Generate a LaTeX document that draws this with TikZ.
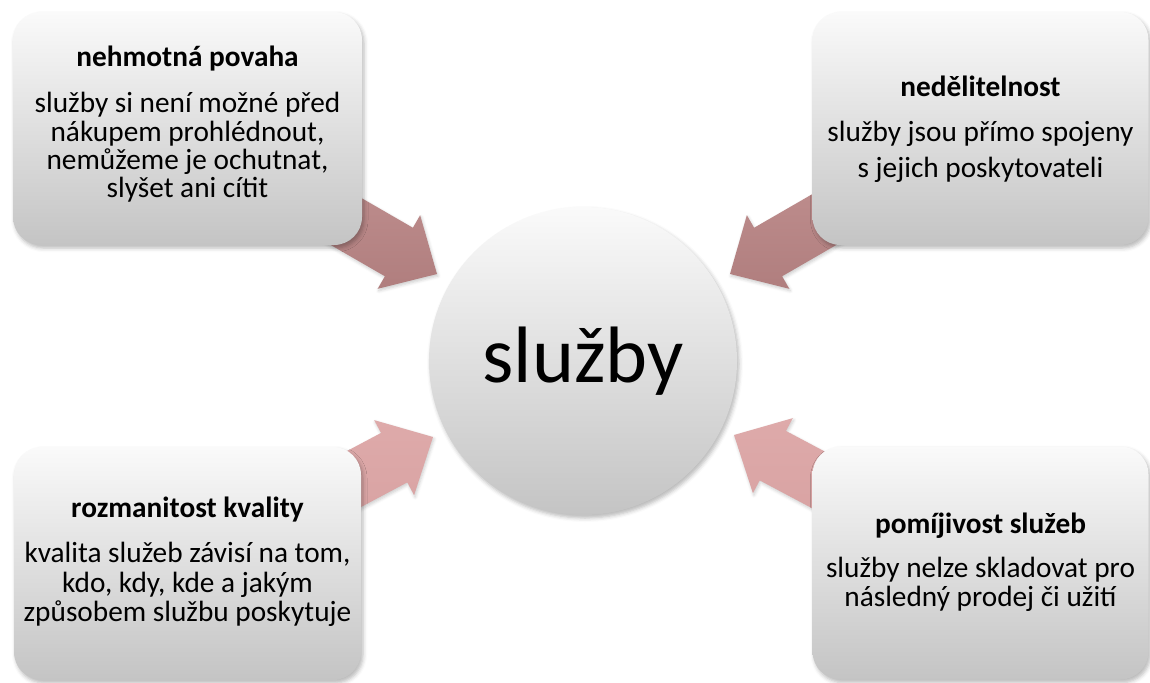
\documentclass[tikz,border=0pt]{standalone}
\usepackage{fontspec}
\setmainfont{Carlito}
\usetikzlibrary{shadows.blur}

\definecolor{cardtop}{RGB}{250,250,250}
\definecolor{cardmid}{RGB}{231,231,231}
\definecolor{cardbot}{RGB}{196,196,196}
\definecolor{arrowhiA}{RGB}{198,150,150}
\definecolor{arrowloA}{RGB}{176,126,126}
\definecolor{arrowhiB}{RGB}{222,170,170}
\definecolor{arrowloB}{RGB}{213,158,158}

\tikzset{
  softshadow/.style={blur shadow={shadow xshift=2pt, shadow yshift=-3pt,
      shadow blur radius=4pt, shadow opacity=28}},
  card/.style={rounded corners=28pt, top color=cardtop, middle color=cardmid,
      bottom color=cardbot, draw=none, softshadow},
  hub/.style={circle, top color=cardtop, middle color=cardmid, bottom color=cardbot,
      draw=none, softshadow, font=\fontsize{80}{80}\selectfont},
  headline/.style={font=\fontsize{29.3}{30}\bfseries\selectfont, anchor=base, inner sep=0pt},
  bodyline/.style={font=\fontsize{29.3}{30}\selectfont, anchor=base, inner sep=0pt},
  darkarrow/.style={top color=arrowhiA, bottom color=arrowloA, draw=none,
      blur shadow={shadow xshift=1pt, shadow yshift=-2pt, shadow blur radius=3pt, shadow opacity=20}},
  lightarrow/.style={top color=arrowhiB, bottom color=arrowloB, draw=none,
      blur shadow={shadow xshift=1pt, shadow yshift=-2pt, shadow blur radius=3pt, shadow opacity=20}},
}

% block arrow with its tip at the local origin, pointing along +x
\newcommand{\blockarrowpath}{(0,0) -- (-44,42.5) -- (-44,28) -- (-260,28)
  -- (-260,-28) -- (-44,-28) -- (-44,-42.5) -- cycle}

\begin{document}
\begin{tikzpicture}[x=1pt, y=-1pt]
  \useasboundingbox (0,0) rectangle (1150,682);
  \clip (0,0) rectangle (1150,682);

  % arrow tips around the hub
  \coordinate (tipTL) at (437,274);
  \coordinate (tipTR) at (730,274);
  \coordinate (tipBL) at (433,437);
  \coordinate (tipBR) at (734,435);

  % converging arrows (drawn first, the cards cover their tails)
  \begin{scope}[shift={(tipTL)}, rotate=-30]
    \path[darkarrow] \blockarrowpath;
  \end{scope}
  \begin{scope}[shift={(tipTR)}, rotate=210]
    \path[darkarrow] \blockarrowpath;
  \end{scope}
  \begin{scope}[shift={(tipBL)}, rotate=28]
    \path[lightarrow] \blockarrowpath;
  \end{scope}
  \begin{scope}[shift={(tipBR)}, rotate=152]
    \path[lightarrow] \blockarrowpath;
  \end{scope}

  % cards
  \node[card, minimum width=349pt, minimum height=233pt] (cardTL) at (187.5,128.5) {};
  \node[card, minimum width=336pt, minimum height=233pt] (cardTR) at (980.5,128.5) {};
  \node[card, minimum width=347pt, minimum height=233pt] (cardBL) at (187.5,563.5) {};
  \node[card, minimum width=336pt, minimum height=233pt] (cardBR) at (980.5,563) {};

  % hub
  \node[hub, minimum size=308pt] (hub) at (583,361) {služby};

  % top left text
  \node[headline] (tlHead) at (187.5,67) {nehmotná povaha};
  \node[bodyline] (tl1) at (187.5,113) {služby si není možné před};
  \node[bodyline] (tl2) at (187.5,141) {nákupem prohlédnout,};
  \node[bodyline] (tl3) at (187.5,169) {nemůžeme je ochutnat,};
  \node[bodyline] (tl4) at (187.5,197) {slyšet ani cítit};

  % top right text
  \node[headline] (trHead) at (980.5,97) {nedělitelnost};
  \node[bodyline] (tr1) at (980.5,141) {služby jsou přímo spojeny};
  \node[bodyline] (tr2) at (980.5,177) {s jejich poskytovateli};

  % bottom left text
  \node[headline] (blHead) at (187.5,517) {rozmanitost kvality};
  \node[bodyline] (bl1) at (187.5,562) {kvalita služeb závisí na tom,};
  \node[bodyline] (bl2) at (187.5,592) {kdo, kdy, kde a jakým};
  \node[bodyline] (bl3) at (187.5,621) {způsobem službu poskytuje};

  % bottom right text
  \node[headline] (brHead) at (980.5,533) {pomíjivost služeb};
  \node[bodyline] (br1) at (980.5,577) {služby nelze skladovat pro};
  \node[bodyline] (br2) at (980.5,606) {následný prodej či užití};
\end{tikzpicture}
\end{document}
